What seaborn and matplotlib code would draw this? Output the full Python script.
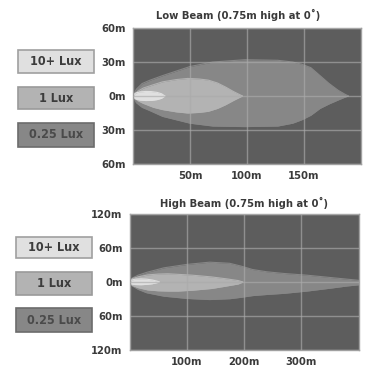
import matplotlib
matplotlib.use('Agg')
import matplotlib.pyplot as plt
from matplotlib.patches import Rectangle
import seaborn as sns

# Lux levels (legend)
levels = ['10+ Lux', '1 Lux', '0.25 Lux']
level_colors = ['#e0e0e0', '#b3b3b3', '#878787']
box_edges = ['#a0a0a0', '#9a9a9a', '#6c6c6c']
box_text = ['#3c3c3c', '#3c3c3c', '#4a4a4a']

# Low beam contours: distance (m), upper edge (m), lower edge (m)
low_025_x = [0, 3, 8, 15, 26, 38, 50, 70, 98, 127, 140, 148, 156, 164, 172, 180, 186, 189]
low_025_up = [0, 6, 11, 14, 18, 22, 26, 30, 32, 31.5, 30, 28, 25, 18, 11, 5, 1.5, 0]
low_025_lo = [0, -6, -10, -13, -18, -21, -24, -26.5, -27, -26.5, -24, -21, -17, -11, -7, -3.5, -1, 0]

low_1_x = [0, 4, 9, 18, 26, 38, 48, 58, 66, 74, 81, 88, 96]
low_1_up = [0, 4, 7, 10, 12.5, 14.5, 15.5, 15, 14, 11.5, 8, 4, 0]
low_1_lo = [0, -4, -6.5, -10, -12, -14, -15, -14.5, -13.5, -11, -7.8, -4, 0]

low_10_x = [0, 2, 6, 11, 16, 21, 25, 28]
low_10_up = [0, 2.5, 3.6, 4, 3.9, 3.2, 2, 0]
low_10_lo = [0, -2.5, -3.6, -4, -3.9, -3.2, -2, 0]

# High beam contours
high_025_x = [0, 5, 15, 30, 60, 100, 140, 175, 195, 215, 240, 270, 310, 350, 380, 400]
high_025_up = [0, 7, 12, 17, 25, 31, 35, 33, 28, 22, 18, 15, 12, 8, 5, 3]
high_025_lo = [0, -7, -13, -19, -25, -29, -31, -29.5, -27, -24, -22, -20, -16, -11, -7, -5]

high_1_x = [0, 5, 15, 32, 50, 67, 85, 110, 143, 170, 190, 198]
high_1_up = [0, 6, 9, 12.5, 14, 14.5, 13.5, 12, 9, 5.5, 2.5, 0]
high_1_lo = [0, -6, -10, -14, -15.5, -16, -16, -14.5, -11.5, -7, -3.5, 0]

high_10_x = [0, 4, 10, 20, 30, 40, 48, 52]
high_10_up = [0, 3.5, 5, 5.5, 5, 3.5, 1.5, 0]
high_10_lo = [0, -3.5, -4.5, -4.8, -4.2, -3, -1.2, 0]

low_xticks = [50, 100, 150]
low_yticks = [-60, -30, 0, 30, 60]
high_xticks = [100, 200, 300]
high_yticks = [-120, -60, 0, 60, 120]

sns.set_theme(style='dark', rc={
    'axes.facecolor': '#5d5d5d',
    'axes.edgecolor': '#a8a8a8',
    'figure.facecolor': 'white',
})
plt.rcParams['font.family'] = ['DejaVu Sans']
plt.rcParams['font.stretch'] = 'condensed'

W, H = 381, 380
fig = plt.figure(figsize=(W / 100, H / 100), dpi=100)


def draw_panel(rect, title, title_x, title_y, contours, xmax, ymax, xticks, yticks, box_x, box_ys):
    ax = fig.add_axes(rect)
    for (xs, up, lo), col in zip(contours, level_colors[::-1]):
        ax.fill_between(xs, lo, up, color=col, linewidth=0, zorder=1)
        sns.lineplot(x=xs, y=up, ax=ax, color=col, linewidth=0.8, zorder=1, sort=False)
        sns.lineplot(x=xs, y=lo, ax=ax, color=col, linewidth=0.8, zorder=1, sort=False)
    ax.set_xlim(0, xmax)
    ax.set_ylim(-ymax, ymax)
    ax.set_xticks(xticks)
    ax.set_yticks(yticks)
    ax.set_xticklabels([f'{t}m' for t in xticks])
    ax.set_yticklabels([f'{abs(t)}m' for t in yticks])
    ax.tick_params(length=0, labelsize=8, colors='#3a3a3a', pad=5)
    for lab in ax.get_xticklabels() + ax.get_yticklabels():
        lab.set_fontweight('bold')
        lab.set_fontstretch('condensed')
    ax.grid(True, color='#ababab', linewidth=1.0, alpha=0.65, zorder=3)
    ax.set_axisbelow(False)
    for s in ax.spines.values():
        s.set_linewidth(1.0)
        s.set_color('#a0a0a0')
    fig.text(title_x / W, 1 - title_y / H, title, ha='center', va='center',
             fontsize=8, fontweight='bold', fontstretch='condensed', color='#3a3a3a')
    # legend boxes
    for lab, face, edge, tc, (y0, y1) in zip(levels, level_colors, box_edges, box_text, box_ys):
        fig.patches.append(Rectangle((box_x[0] / W, 1 - y1 / H), (box_x[1] - box_x[0]) / W,
                                     (y1 - y0) / H, transform=fig.transFigure,
                                     facecolor=face, edgecolor=edge, linewidth=1.2))
        fig.text((box_x[0] + box_x[1]) / 2 / W, 1 - (y0 + y1) / 2 / H, lab, ha='center',
                 va='center', fontsize=9, fontweight='bold', fontstretch='condensed', color=tc)
    return ax


low = [(low_025_x, low_025_up, low_025_lo),
       (low_1_x, low_1_up, low_1_lo),
       (low_10_x, low_10_up, low_10_lo)]
high = [(high_025_x, high_025_up, high_025_lo),
        (high_1_x, high_1_up, high_1_lo),
        (high_10_x, high_10_up, high_10_lo)]

draw_panel([133 / W, 1 - 164 / H, 228 / W, 136 / H], 'Low Beam (0.75m high at 0˚)', 238, 15,
           low, 200, 60, low_xticks, low_yticks, (18, 94), [(50, 73), (87, 109), (123, 147)])
draw_panel([129.5 / W, 1 - 350 / H, 229 / W, 136 / H], 'High Beam (0.75m high at 0˚)', 244, 203,
           high, 400, 120, high_xticks, high_yticks, (16, 92), [(237, 258), (272, 295), (308, 332)])

fig.savefig('out.png', dpi=100)
